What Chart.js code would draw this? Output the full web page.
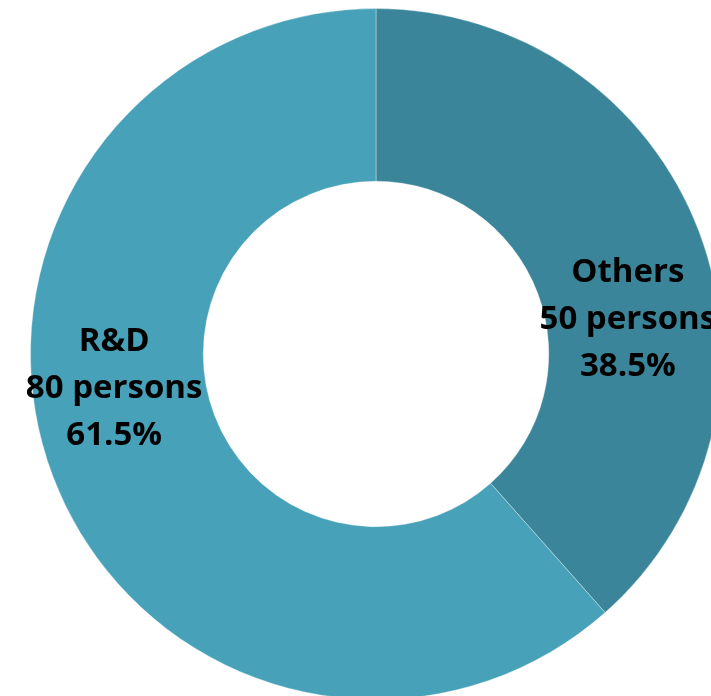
<!DOCTYPE html>
<html>
<head>
<meta charset="utf-8">
<script src="https://cdn.jsdelivr.net/npm/chart.js@4"></script>
<style>
  html, body { margin: 0; padding: 0; background: #fff; overflow: hidden; }
  #wrap { position: absolute; left: 0; top: 0; width: 752px; height: 700px; }
</style>
</head>
<body>
<div id="wrap"><canvas id="chart"></canvas></div>
<script>
const categories = ['Others', 'R&D'];
const persons = [50, 80];
const percentLabels = ['38.5%', '61.5%'];
const colors = ['#3A8599', '#47A1B8'];

// labels drawn inside the ring, a little past each slice's mid angle
const ringLabels = {
    id: 'ringLabels',
    afterDatasetsDraw(chart) {
        const ctx = chart.ctx;
        const meta = chart.getDatasetMeta(0);
        ctx.save();
        ctx.font = 'bold 33px "Open Sans"';
        ctx.fillStyle = '#000';
        ctx.textAlign = 'center';
        ctx.textBaseline = 'middle';
        meta.data.forEach((arc, i) => {
            const p = arc.getProps(['x', 'y', 'startAngle', 'endAngle', 'innerRadius', 'outerRadius'], true);
            const a = (p.startAngle + p.endAngle) / 2 + 0.23;
            const r = (p.innerRadius + p.outerRadius) / 2;
            const cx = p.x + Math.cos(a) * r - 5;
            const cy = p.y + Math.sin(a) * r;
            const lines = [categories[i], persons[i] + ' persons', percentLabels[i]];
            lines.forEach((t, j) => ctx.fillText(t, cx, cy + (j - 1) * 47));
        });
        ctx.restore();
    }
};

new Chart(document.getElementById('chart').getContext('2d'), {
    type: 'doughnut',
    data: {
        labels: categories,
        datasets: [{
            data: persons,
            backgroundColor: colors,
            borderColor: 'rgba(255,255,255,0.35)',
            borderWidth: 1
        }]
    },
    options: {
        responsive: true,
        maintainAspectRatio: false,
        animation: false,
        cutout: '50%',
        layout: { padding: { top: 8, bottom: 0, left: 30, right: 30 } },
        plugins: {
            legend: { display: false },
            tooltip: { enabled: false }
        }
    },
    plugins: [ringLabels]
});
</script>
</body>
</html>
